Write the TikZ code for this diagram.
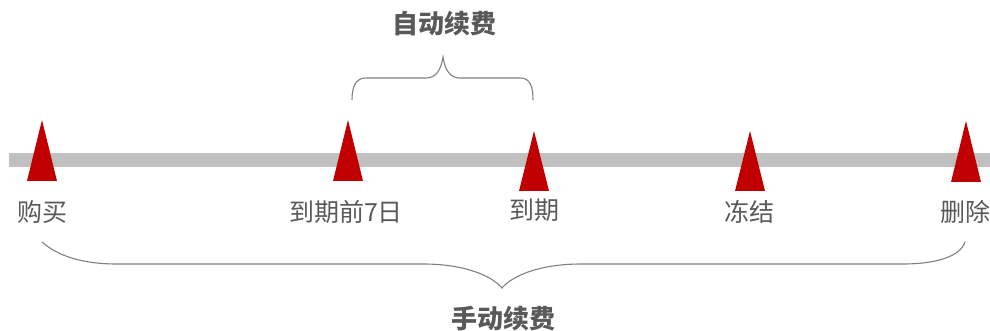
\documentclass[tikz,border=0pt]{standalone}
\usepackage{fontspec}
\setmainfont{Noto Sans CJK SC}
\usepackage{tikz}
\definecolor{barGray}{HTML}{C0C0C0}
\definecolor{markRed}{HTML}{C00000}
\definecolor{textGray}{HTML}{595959}
\definecolor{braceGray}{HTML}{808080}
\tikzset{
  mark tri/.style={fill=markRed},
  stage/.style={text=textGray,font=\fontsize{25}{25}\selectfont,inner sep=0pt},
  renew/.style={text=textGray,font=\fontsize{26}{26}\selectfont\bfseries,inner sep=0pt},
  brace line/.style={draw=braceGray,line width=1.1pt}
}

\begin{document}
\begin{tikzpicture}[x=1pt,y=-1pt]
\useasboundingbox (0,0) rectangle (990,331);
% time line
\fill[barGray] (9,153) rectangle (990,167);
% stage marks
\coordinate (buy) at (42,120);
\coordinate (pre) at (348,120);
\coordinate (due) at (534,131);
\coordinate (frz) at (750,131);
\coordinate (del) at (966,121);
\fill[mark tri] (buy) -- ++(-15,61) -- ++(30,0) -- cycle;
\fill[mark tri] (pre) -- ++(-15,61) -- ++(30,0) -- cycle;
\fill[mark tri] (due) -- ++(-15,60) -- ++(30,0) -- cycle;
\fill[mark tri] (frz) -- ++(-15,60) -- ++(30,0) -- cycle;
\fill[mark tri] (del) -- ++(-15,61) -- ++(30,0) -- cycle;
\node[stage] (buyl) at (42,212) {购买};
\node[stage] (prel) at (346,212) {到期前7日};
\node[stage] (duel) at (534,210) {到期};
\node[stage] (frzl) at (749,212) {冻结};
\node[stage] (dell) at (965,212) {删除};
% auto renewal
\draw[brace line] (352,100) .. controls (352,86) and (356,78) .. (366,78) -- (426,78)
  .. controls (436,78) and (441,70) .. (443,57) .. controls (445,70) and (450,78) .. (460,78)
  -- (520,78) .. controls (530,78) and (533,86) .. (533,100);
\node[renew] (auto) at (444,24) {自动续费};
% manual renewal
\draw[brace line] (42,242) .. controls (58,256) and (82,264) .. (117,264) -- (423,264)
  .. controls (465,264) and (492,276) .. (502,288) .. controls (512,276) and (539,264) .. (581,264)
  -- (903,264) .. controls (935,264) and (960,257) .. (965,242);
\node[renew] (manual) at (503,319) {手动续费};
\end{tikzpicture}
\end{document}
